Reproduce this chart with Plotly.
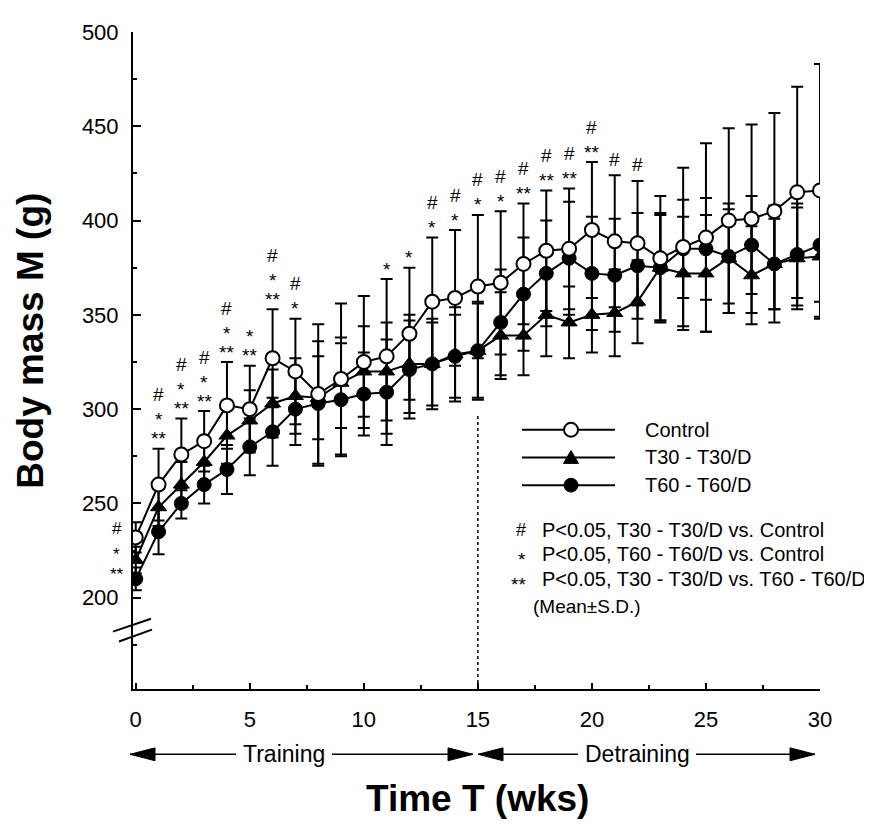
import plotly.graph_objects as go

# ---------------- data ----------------
weeks = list(range(31))

control = [232, 260, 276, 283, 302, 300, 327, 320, 308, 316, 325, 328, 340, 357, 359, 365,
           367, 377, 384, 385, 395, 389, 388, 380, 386, 391, 400, 401, 405, 415, 416]
control_sd = [8, 19, 19, 16, 23, 23, 26, 28, 37, 40, 35, 41, 35, 34, 36, 38,
              38, 32, 32, 32, 36, 35, 33, 33, 42, 50, 49, 50, 52, 56, 67]

t30 = [220, 248, 260, 272, 286, 294, 303, 307, 306, 314, 320, 320, 324, 324, 329, 331,
       339, 339, 350, 346, 350, 351, 357, 375, 372, 372, 380, 371, 377, 380, 381]
t30_sd = [7, 10, 12, 12, 15, 16, 18, 20, 22, 24, 24, 26, 26, 24, 25, 26,
          23, 21, 22, 19, 20, 23, 22, 29, 30, 31, 29, 26, 31, 27, 33]

t60 = [210, 235, 250, 260, 268, 280, 288, 300, 303, 305, 308, 309, 321, 324, 328, 331,
       346, 361, 372, 380, 372, 371, 376, 375, 385, 385, 381, 387, 377, 382, 387]
t60_sd = [6, 12, 8, 10, 13, 15, 18, 19, 33, 30, 22, 28, 26, 22, 22, 25,
          28, 30, 28, 30, 30, 30, 28, 28, 26, 27, 25, 26, 24, 27, 30]

x_ticks = [0, 5, 10, 15, 20, 25, 30]
y_ticks = [200, 250, 300, 350, 400, 450, 500]

# weeks with significant differences
sig_hash = [0, 1, 2, 3, 4, 6, 7, 13, 14, 15, 16, 17, 18, 19, 20, 21, 22]   # T30 vs Control
sig_star = [0, 1, 2, 3, 4, 5, 6, 7, 11, 12, 13, 14, 15, 16]               # T60 vs Control
sig_dstar = [0, 1, 2, 3, 4, 5, 6, 17, 18, 19, 20]                          # T30 vs T60

series_names = ["Control", "T30 - T30/D", "T60 - T60/D"]
note_symbols = ["#", "*", "**"]
note_texts = ["P<0.05, T30 - T30/D vs. Control",
              "P<0.05, T60 - T60/D vs. Control",
              "P<0.05, T30 - T30/D vs. T60 - T60/D"]
phase_labels = ["Training", "Detraining"]
detraining_start = 15

# ---------------- layout geometry ----------------
OFF = 8                      # page body margin added by the browser
W, H = 872 - OFF, 830 - OFF
ML, MR, MT, MB = 133 - OFF, 52, 25 - OFF, 141
PW, PH = W - ML - MR, H - MT - MB
FONT = "Liberation Sans, Arial, Helvetica, sans-serif"


def pp(px, py):
    """reference-pixel -> paper coordinates"""
    px -= OFF
    py -= OFF
    return (px - ML) / PW, (H - MB - py) / PH


fig = go.Figure()

err_style = dict(type="data", thickness=2, width=6, color="black")

fig.add_trace(go.Scatter(
    x=weeks, y=t60, mode="lines+markers", name=series_names[2],
    line=dict(color="black", width=2),
    marker=dict(symbol="circle", size=14, color="black", line=dict(color="black", width=1)),
    error_y=dict(array=t60_sd, **err_style), showlegend=False))

fig.add_trace(go.Scatter(
    x=weeks, y=t30, mode="lines+markers", name=series_names[1],
    line=dict(color="black", width=2),
    marker=dict(symbol="triangle-up", size=14, color="black", line=dict(color="black", width=1)),
    error_y=dict(array=t30_sd, **err_style), showlegend=False))

fig.add_trace(go.Scatter(
    x=weeks, y=control, mode="lines+markers", name=series_names[0],
    line=dict(color="black", width=2),
    marker=dict(symbol="circle", size=14, color="white", line=dict(color="black", width=2)),
    error_y=dict(array=control_sd, **err_style), showlegend=False))

annotations = []
shapes = []

# ---------------- significance markers ----------------
for w in weeks:
    labels = []
    if w in sig_dstar:
        labels.append("**")
    if w in sig_star:
        labels.append("*")
    if w in sig_hash:
        labels.append("#")
    for i, lab in enumerate(labels):
        star = lab != "#"
        if w == 0:
            y = t60[0]
            ys = 10 + 20 * i
            xs = -19
            size = 17
        else:
            y = control[w] + control_sd[w]
            ys = 16 + 19 * i
            xs = 0
            size = 19
        if star:
            ys -= 6
        annotations.append(dict(x=w, y=y, xref="x", yref="y", text=lab, showarrow=False,
                                xshift=xs, yshift=ys, yanchor="middle",
                                font=dict(family=FONT, size=size, color="black")))

# ---------------- dashed line at start of detraining ----------------
shapes.append(dict(type="line", xref="x", yref="y", x0=detraining_start, x1=detraining_start,
                   y0=151.6, y1=298, line=dict(color="black", width=1.5, dash="3px,3px")))

# ---------------- axis break marks ----------------
for (x0, y0, x1, y1) in [(113, 631, 151, 618), (119, 641, 152, 629)]:
    a, b = pp(x0, y0)
    c, d = pp(x1, y1)
    shapes.append(dict(type="line", xref="paper", yref="paper", x0=a, y0=b, x1=c, y1=d,
                       line=dict(color="black", width=2)))

# ---------------- legend (drawn) ----------------
leg_rows = [427, 455, 483]
for k, py in enumerate(leg_rows):
    a, b = pp(522, py)
    c, d = pp(615, py)
    shapes.append(dict(type="line", xref="paper", yref="paper", x0=a, y0=b, x1=c, y1=d,
                       line=dict(color="black", width=2)))
    cx = 571
    if k == 0 or k == 2:
        a, b = pp(cx - 7, py + 7)
        c, d = pp(cx + 7, py - 7)
        shapes.append(dict(type="circle", xref="paper", yref="paper", x0=a, y0=b, x1=c, y1=d,
                           fillcolor="white" if k == 0 else "black",
                           line=dict(color="black", width=2 if k == 0 else 1)))
    else:
        p1 = pp(cx, py - 7)
        p2 = pp(cx - 7.5, py + 6)
        p3 = pp(cx + 7.5, py + 6)
        path = f"M{p1[0]},{p1[1]} L{p2[0]},{p2[1]} L{p3[0]},{p3[1]} Z"
        shapes.append(dict(type="path", xref="paper", yref="paper", path=path,
                           fillcolor="black", line=dict(color="black", width=1)))
    tx, ty = pp(643, py)
    annotations.append(dict(x=tx, y=ty, xref="paper", yref="paper", text=series_names[k],
                            showarrow=False, xanchor="left", yanchor="middle",
                            font=dict(family=FONT, size=20, color="black")))

note_rows = [528, 553, 578]
for k, py in enumerate(note_rows):
    sx, sy = pp(528, py)
    annotations.append(dict(x=sx, y=sy, xref="paper", yref="paper", text=note_symbols[k],
                            showarrow=False, xanchor="right", yanchor="middle",
                            yshift=0 if k == 0 else -5,
                            font=dict(family=FONT, size=19 if k else 18, color="black")))
    tx, ty = pp(540, py)
    annotations.append(dict(x=tx, y=ty, xref="paper", yref="paper", text=note_texts[k],
                            showarrow=False, xanchor="left", yanchor="middle",
                            font=dict(family=FONT, size=20, color="black")))
mx, my = pp(531, 606)
annotations.append(dict(x=mx, y=my, xref="paper", yref="paper", text="(Mean±S.D.)",
                        showarrow=False, xanchor="left", yanchor="middle",
                        font=dict(family=FONT, size=19, color="black")))

# ---------------- Training / Detraining arrows ----------------
arrow_y = 755
segments = [(130, 236, 332, 473, 284, phase_labels[0]),
            (478, 578, 696, 815, 637, phase_labels[1])]
for (tipL, txtL, txtR, tipR, cx, lab) in segments:
    for (x0, x1) in [(tipL, txtL), (txtR, tipR)]:
        a, b = pp(x0, arrow_y)
        c, d = pp(x1, arrow_y)
        shapes.append(dict(type="line", xref="paper", yref="paper", x0=a, y0=b, x1=c, y1=d,
                           line=dict(color="black", width=1.5)))
    for tip, back in [(tipL, tipL + 25), (tipR, tipR - 25)]:
        p1 = pp(tip, arrow_y)
        p2 = pp(back, arrow_y - 6.5)
        p3 = pp(back, arrow_y + 6.5)
        path = f"M{p1[0]},{p1[1]} L{p2[0]},{p2[1]} L{p3[0]},{p3[1]} Z"
        shapes.append(dict(type="path", xref="paper", yref="paper", path=path,
                           fillcolor="black", line=dict(color="black", width=1)))
    tx, ty = pp(cx, arrow_y)
    annotations.append(dict(x=tx, y=ty, xref="paper", yref="paper", text=lab,
                            showarrow=False, xanchor="center", yanchor="middle",
                            font=dict(family=FONT, size=23, color="black")))

# ---------------- axis titles ----------------
tx, ty = pp(478, 800)
annotations.append(dict(x=tx, y=ty, xref="paper", yref="paper", text="<b>Time T (wks)</b>",
                        showarrow=False, xanchor="center", yanchor="middle",
                        font=dict(family=FONT, size=37, color="black")))
tx, ty = pp(31, 337)
annotations.append(dict(x=tx, y=ty, xref="paper", yref="paper", text="<b>Body mass M (g)</b>",
                        showarrow=False, xanchor="center", yanchor="middle", textangle=-90,
                        font=dict(family=FONT, size=37, color="black")))

fig.update_layout(
    width=W, height=H,
    margin=dict(l=ML, r=MR, t=MT, b=MB, pad=0),
    paper_bgcolor="white", plot_bgcolor="white",
    showlegend=False,
    font=dict(family=FONT, color="black"),
    annotations=annotations, shapes=shapes,
    xaxis=dict(range=[-0.12, 30], tickvals=x_ticks, ticktext=[str(v) for v in x_ticks],
               ticks="inside", ticklen=6, tickwidth=1.5, tickcolor="black",
               minor=dict(tickvals=[2.5, 7.5, 12.5, 17.5, 22.5, 27.5], ticks="inside",
                          ticklen=4, tickwidth=1.5, tickcolor="black"),
               showline=True, linecolor="black", linewidth=2, showgrid=False, zeroline=False,
               tickfont=dict(family=FONT, size=22, color="black"), ticklabelstandoff=10),
    yaxis=dict(range=[151.6, 500], tickvals=y_ticks, ticktext=[str(v) for v in y_ticks],
               ticks="inside", ticklen=8, tickwidth=1.5, tickcolor="black",
               minor=dict(dtick=25, tick0=0, ticks="inside", ticklen=4, tickwidth=1.5,
                          tickcolor="black"),
               showline=True, linecolor="black", linewidth=2, showgrid=False, zeroline=False,
               tickfont=dict(family=FONT, size=22, color="black"), ticklabelstandoff=8),
)

fig.write_html("out.html")
